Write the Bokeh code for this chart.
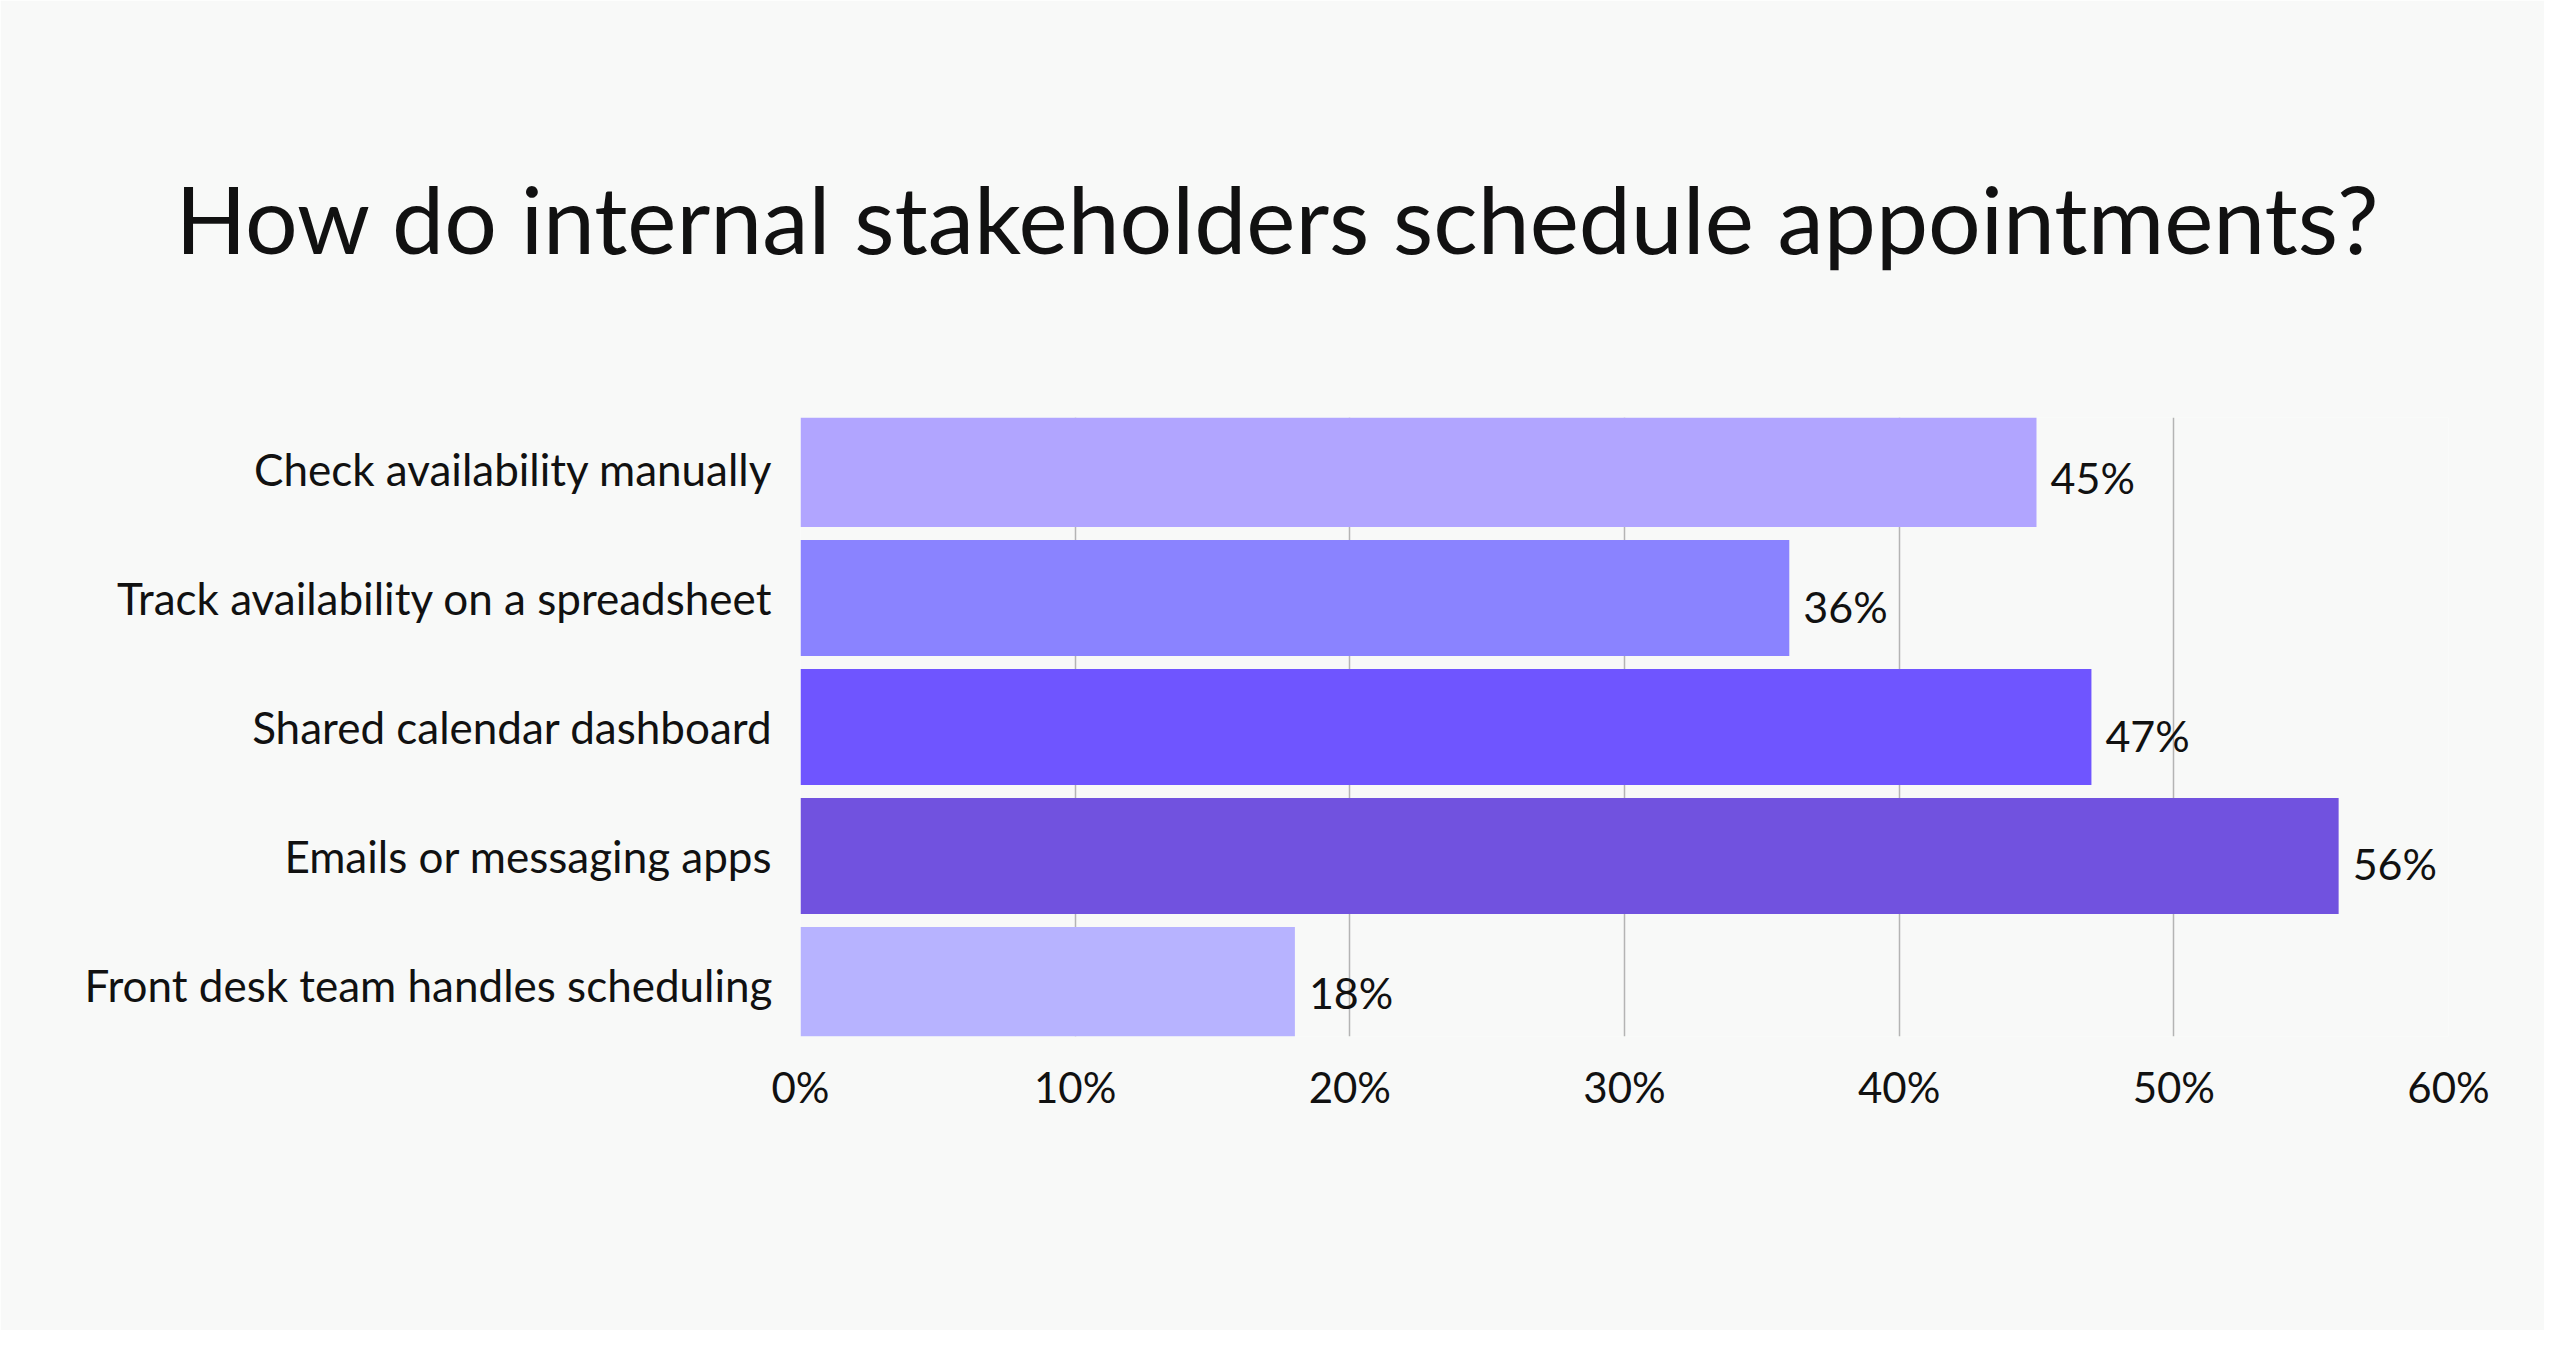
from bokeh.plotting import figure
from bokeh.models import FactorRange, Range1d, FixedTicker, PrintfTickFormatter, Title, ColumnDataSource
from bokeh.core.properties import value
from bokeh.embed import file_html
from bokeh.resources import INLINE

categories = [
    "Check availability manually",
    "Track availability on a spreadsheet",
    "Shared calendar dashboard",
    "Emails or messaging apps",
    "Front desk team handles scheduling",
]
values = [45, 36, 47, 56, 18]
colors = ["#b1a5ff", "#8a83ff", "#6f55ff", "#7152df", "#b7b3ff"]
x_ticks = [0, 10, 20, 30, 40, 50, 60]
title_text = "How do internal stakeholders schedule appointments?"

FONT = "Lato"
BG = "#f8f9f8"

src = ColumnDataSource(dict(
    cat=categories,
    val=values,
    color=colors,
    label=[f"{v}%" for v in values],
))

p = figure(
    width=2544, height=1330,
    y_range=FactorRange(*reversed(categories), range_padding=-0.1, range_padding_units="absolute"),
    x_range=Range1d(0, 60),
    output_backend="svg", toolbar_location=None,
    min_border_left=800, min_border_right=96, min_border_top=417, min_border_bottom=294,
)
p.background_fill_color = BG
p.border_fill_color = BG
p.outline_line_color = None

p.hbar(y="cat", right="val", left=0, height=0.9, color="color", line_color=None, source=src)
p.text(x="val", y="cat", text="label", source=src, x_offset=14, y_offset=8,
       text_baseline="middle", text_align="left", text_font=value(FONT),
       text_font_size="43px", text_color="#111111")

p.ygrid.grid_line_color = None
p.xgrid.ticker = FixedTicker(ticks=x_ticks)
p.xgrid.grid_line_color = "#b4b4b4"
p.xgrid.grid_line_width = 1.5

p.xaxis.ticker = FixedTicker(ticks=x_ticks)
p.xaxis.formatter = PrintfTickFormatter(format="%d%%")
p.xaxis.axis_line_color = None
p.xaxis.major_tick_line_color = None
p.xaxis.minor_tick_line_color = None
p.xaxis.major_tick_out = 0
p.xaxis.major_tick_in = 0
p.xaxis.major_label_standoff = 25
p.xaxis.major_label_text_font = FONT
p.xaxis.major_label_text_font_size = "42px"
p.xaxis.major_label_text_color = "#111111"

p.yaxis.axis_line_color = None
p.yaxis.major_tick_line_color = None
p.yaxis.major_tick_out = 0
p.yaxis.major_tick_in = 0
p.yaxis.major_label_standoff = 28
p.yaxis.major_label_text_font = FONT
p.yaxis.major_label_text_font_size = "44px"
p.yaxis.major_label_text_color = "#111111"

p.add_layout(Title(text=title_text, align="left", vertical_align="bottom", standoff=288,
                   offset=-625, text_font=FONT, text_font_size="93px",
                   text_font_style="normal", text_color="#111111"), "above")

open("out.html", "w").write(file_html(p, INLINE))
